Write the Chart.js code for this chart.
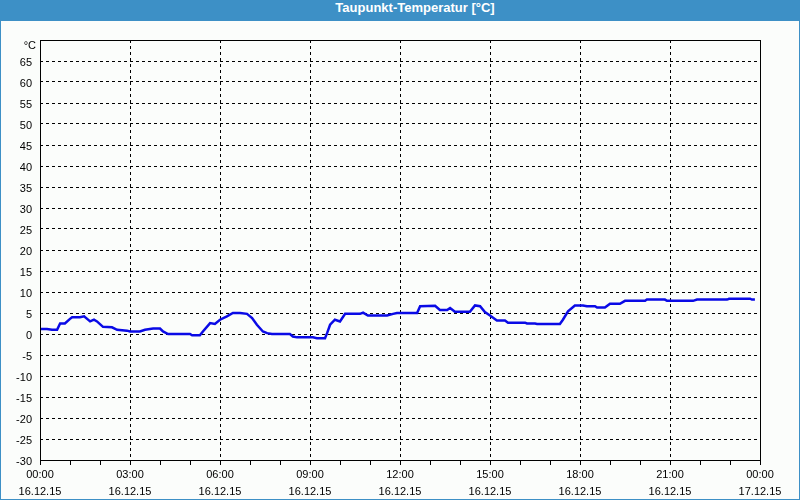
<!DOCTYPE html>
<html>
<head>
<meta charset="utf-8">
<script src="https://cdn.jsdelivr.net/npm/chart.js@4"></script>
<style>
  html, body { margin: 0; padding: 0; background: #fbfdfb; }
  .frame { width: 800px; height: 500px; box-sizing: border-box; border: 1px solid #3d90c6; border-top: none; position: relative; }
  .title { height: 21px; line-height: 21px; background: #3d90c6; color: #fff; text-align: center; padding-left: 30px;
           font: bold 13px "Liberation Sans", Arial, sans-serif; }
  #chart { display: block; }
</style>
</head>
<body>
<div class="frame">
  <div class="title">Taupunkt-Temperatur [°C]</div>
  <canvas id="chart" width="798" height="478"></canvas>
</div>
<script>
// Zeitpunkte in Stunden ab 16.12.15 00:00
const hours = [0, 0.23, 0.4, 0.57, 0.67, 0.83, 1.0, 1.07, 1.33, 1.47, 1.67, 1.8, 1.9, 2.1, 2.4, 2.57, 2.9, 3.0, 3.33, 3.5,
  3.77, 4.0, 4.1, 4.27, 5.0, 5.07, 5.33, 5.43, 5.67, 5.83, 6.0, 6.23, 6.43, 6.67, 6.9, 7.07, 7.23, 7.43, 7.57, 7.73,
  8.33, 8.43, 8.57, 9.1, 9.23, 9.5, 9.57, 9.67, 9.83, 10.0, 10.17, 10.67, 10.77, 10.93, 11.57, 11.77, 11.9, 12.57, 12.67, 13.17,
  13.33, 13.57, 13.67, 13.83, 14.33, 14.5, 14.67, 14.83, 15.0, 15.23, 15.5, 15.6, 16.17, 16.23, 16.5, 16.57, 17.33, 17.43, 17.6, 17.83,
  18.1, 18.23, 18.5, 18.57, 18.83, 19.0, 19.33, 19.5, 20.17, 20.23, 20.83, 20.9, 21.77, 21.9, 22.9, 22.97, 23.67, 23.73, 23.83];
// Taupunkt in °C
const dewPoint = [1.2, 1.2, 1.0, 1.0, 2.5, 2.5, 3.6, 4.0, 4.0, 4.2, 3.0, 3.4, 3.0, 1.7, 1.6, 1.0, 0.8, 0.6, 0.6, 1.0,
  1.3, 1.3, 0.6, 0.0, 0.0, -0.3, -0.3, 0.6, 2.6, 2.4, 3.4, 4.2, 5.0, 5.0, 4.8, 3.8, 2.2, 0.6, 0.2, 0.0,
  0.0, -0.6, -0.8, -0.8, -1.0, -1.0, 0.2, 2.2, 3.4, 3.0, 4.8, 4.8, 5.1, 4.4, 4.4, 4.8, 5.0, 5.0, 6.6, 6.7,
  5.7, 5.7, 6.2, 5.3, 5.3, 6.8, 6.6, 5.2, 4.4, 3.2, 3.2, 2.7, 2.7, 2.5, 2.5, 2.4, 2.4, 3.4, 5.4, 6.8,
  6.8, 6.6, 6.6, 6.3, 6.3, 7.2, 7.2, 7.9, 7.9, 8.2, 8.2, 7.9, 7.9, 8.2, 8.2, 8.4, 8.4, 8.2, 8.2];

const timeLabels = ['00:00', '03:00', '06:00', '09:00', '12:00', '15:00', '18:00', '21:00', '00:00'];
const dateLabels = ['16.12.15', '16.12.15', '16.12.15', '16.12.15', '16.12.15', '16.12.15', '16.12.15', '16.12.15', '17.12.15'];
const yMin = -30, yMax = 70, yStep = 5;

const font = { family: '"Liberation Sans", Arial, sans-serif', size: 11 };

// Rahmen um den Plotbereich und Einheit oben links
const framePlugin = {
  id: 'frame',
  afterDraw(chart) {
    const { ctx, chartArea: a } = chart;
    ctx.save();
    ctx.strokeStyle = '#000';
    ctx.lineWidth = 1;
    ctx.strokeRect(Math.round(a.left) + 0.5, Math.round(a.top) + 0.5, Math.round(a.right - a.left), Math.round(a.bottom - a.top));
    ctx.fillStyle = '#000';
    ctx.font = '11px "Liberation Sans", Arial, sans-serif';
    ctx.textAlign = 'right';
    ctx.textBaseline = 'middle';
    ctx.fillText('°C', a.left - 4, a.top + 6);
    ctx.restore();
  }
};

new Chart(document.getElementById('chart'), {
  type: 'line',
  data: {
    datasets: [{
      data: hours.map((h, i) => ({ x: h, y: dewPoint[i] })),
      borderColor: '#0a0ae6',
      borderWidth: 2.5,
      pointRadius: 0,
      tension: 0,
      fill: false
    }]
  },
  options: {
    responsive: false,
    animation: false,
    layout: { padding: { top: 19, right: 39, left: 0, bottom: 0 } },
    plugins: { legend: { display: false }, tooltip: { enabled: false } },
    scales: {
      x: {
        type: 'linear',
        min: 0, max: 24,
        afterFit(s) { s.height = 39; },
        ticks: {
          stepSize: 1, autoSkip: false, maxRotation: 0, color: '#000', padding: 2,
          font: { ...font, lineHeight: 1.5 },
          callback: v => v % 3 === 0 ? [timeLabels[v / 3], dateLabels[v / 3]] : ''
        },
        grid: {
          color: c => (c.tick && c.tick.value % 3 === 0) ? '#000' : 'rgba(0,0,0,0)',
          tickColor: '#000', tickLength: 5, lineWidth: 1
        },
        border: { display: false, dash: [3, 3] }
      },
      y: {
        min: yMin, max: yMax,
        afterFit(s) { s.width = 39; },
        ticks: {
          stepSize: yStep, color: '#000', padding: 8,
          font: { ...font, lineHeight: 0.36 },
          // leere erste Zeile schiebt die Beschriftung leicht unter die Gitterlinie
          callback: v => v === yMax ? '' : [' ', String(v)]
        },
        grid: {
          color: c => (c.tick && c.tick.value === yMax) ? 'rgba(0,0,0,0)' : '#000',
          drawTicks: false, lineWidth: 1
        },
        border: { display: false, dash: [3, 3] }
      }
    }
  },
  plugins: [framePlugin]
});
</script>
</body>
</html>
